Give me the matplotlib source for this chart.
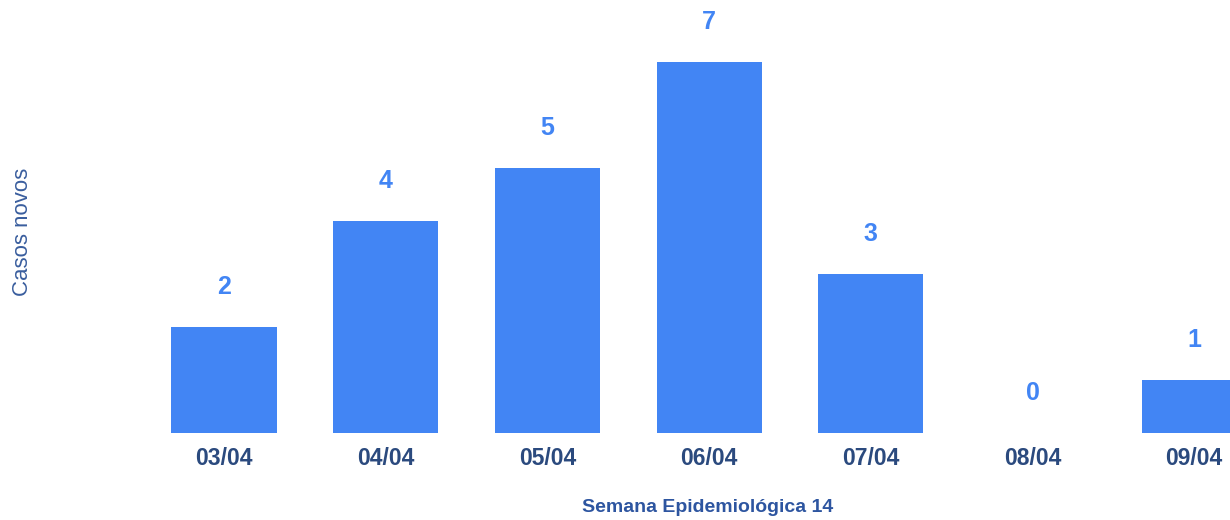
import matplotlib.pyplot as plt

plt.rcParams['font.family'] = ['Liberation Sans', 'DejaVu Sans']

dates = ["03/04", "04/04", "05/04", "06/04", "07/04", "08/04", "09/04"]
casos = [2, 4, 5, 7, 3, 0, 1]

bar_color = "#4285F4"
tick_color = "#2B4A7E"
title_color = "#2D55A0"

fig = plt.figure(figsize=(12.3, 5.2), dpi=100)
# axes span full width; last bar is cut by the right edge like the original
ax = fig.add_axes([0, 87 / 520, 1, 433 / 520])

x = list(range(len(dates)))
ax.bar(x, casos, width=0.65, color=bar_color)

for xi, v in zip(x, casos):
    ax.annotate(str(v), (xi, v), xytext=(0, 29), textcoords="offset points",
                ha="center", va="center", fontsize=18, fontweight="bold",
                color=bar_color)

# pixel mapping: bar centers at 224 + 161.7*i
ax.set_xlim((0 - 224) / 161.7, (1230 - 224) / 161.7)
ax.set_ylim(0, 433 / 53)

ax.set_xticks(x)
ax.set_xticklabels(dates, fontsize=16.5, fontweight="bold", color=tick_color)
ax.tick_params(axis="x", length=0, pad=10)
ax.set_yticks([])
for s in ax.spines.values():
    s.set_visible(False)
ax.patch.set_alpha(0)

fig.text(708 / 1230, 1 - 508 / 520, "Semana Epidemiológica 14",
         ha="center", va="center", fontsize=14, fontweight="bold",
         color=title_color)
fig.text(23 / 1230, 1 - 232 / 520, "Casos novos", rotation=90,
         ha="center", va="center", fontsize=16, color="#3A5E9E")

fig.savefig("out.png", dpi=100)
